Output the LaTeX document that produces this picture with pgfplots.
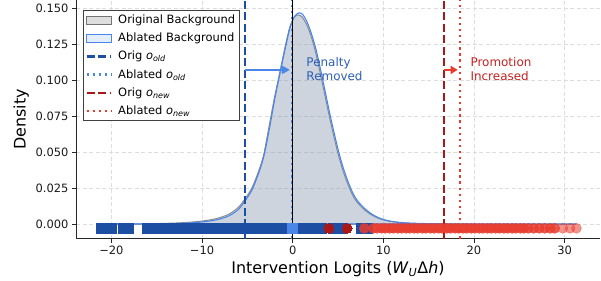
\documentclass[border=0pt]{standalone}
\usepackage{fontspec}
\setmainfont{DejaVu Sans}
\usepackage{pgfplots}
\pgfplotsset{compat=1.18}
\usetikzlibrary{arrows.meta}
\definecolor{dblue}{HTML}{1C4EA4}
\definecolor{lblue}{HTML}{4A86E8}
\definecolor{tblue}{HTML}{2D5FB4}
\definecolor{dred}{HTML}{A81818}
\definecolor{lred}{HTML}{E83C2E}
\definecolor{tred}{HTML}{C42020}
\definecolor{gridc}{HTML}{DDDDDD}
\newcommand{\lf}{\fontsize{11.5}{13}\selectfont}
\pgfplotsset{
  patchlegend/.style={legend image code/.code={\draw[##1] (0bp,-4bp) rectangle (24.5bp,4bp);}},
  linelegend/.style={legend image code/.code={\draw[##1] (0bp,0bp) -- (24.5bp,0bp);}},
}
\begin{document}
\begin{tikzpicture}
\path[use as bounding box] (0bp,0bp) rectangle (601bp,281bp);
\begin{axis}[
  at={(76bp,42.3bp)}, anchor=south west,
  scale only axis, width=524bp, height=238.7bp,
  xmin=-23.9, xmax=33.9, ymin=-0.0102, ymax=0.1555,
  axis x line*=bottom, axis y line*=left,
  axis line style={line width=1bp, black!85},
  tick align=outside, major tick length=4bp,
  tick style={line width=0.8bp, black!85},
  xtick={-20,-10,0,10,20,30},
  xticklabels={−20,−10,0,10,20,30},
  ytick={0,0.025,0.05,0.075,0.1,0.125,0.15},
  yticklabels={0.000,0.025,0.050,0.075,0.100,0.125,0.150},
  tick label style={font=\fontsize{11.5}{14}\selectfont, text=black!90},
  grid=major,
  major grid style={gridc, line width=0.7bp, dash pattern=on 4bp off 2.5bp},
  xlabel={Intervention Logits (\textit{W}\textsubscript{\textit{U}}Δ\textit{h})},
  ylabel={Density},
  label style={font=\fontsize{16}{18}\selectfont},
  legend style={at={(rel axis cs:0.0125,0.958)}, anchor=north west,
    draw=black!75, line width=0.8bp, fill=white,
    font=\lf, nodes={font=\lf}, cells={anchor=west},
    row sep=4bp, column sep=4bp, inner sep=2.5bp},
  legend cell align=left,
]
% original density
\addplot[forget plot, smooth, draw=black!45, line width=1bp, fill=black!38, fill opacity=0.35] table {
-21.6 0.0000
-18 0.0001
-15 0.0003
-12.5 0.0008
-10.5 0.0017
-9 0.0030
-8 0.0045
-7 0.0070
-6 0.0115
-5.26 0.0175
-4.5 0.0250
-3.8 0.0360
-3.2 0.0480
-2.6 0.0680
-2.0 0.0880
-1.4 0.1060
-0.8 0.1240
-0.3 0.1370
0.2 0.1440
0.6 0.1450
1.0 0.1440
1.5 0.1390
2.0 0.1310
2.5 0.1200
3.0 0.1060
3.5 0.0910
4.0 0.0760
4.5 0.0620
5.0 0.0490
5.5 0.0380
6.0 0.0290
6.5 0.0215
7.0 0.0160
7.8 0.0105
8.7 0.0063
9.6 0.0036
10.5 0.0021
12 0.0008
14 0.0003
17 0.0001
20 0.0000
31.3 0.0000
} \closedcycle;
% ablated density
\addplot[forget plot, smooth, draw=lblue, line width=1.1bp, fill=lblue, fill opacity=0.1] table {
-21.6 0.0000
-15 0.0001
-12.5 0.0004
-10.5 0.0011
-9 0.0022
-8 0.0035
-7 0.0058
-6 0.0100
-5.26 0.0160
-4.5 0.0235
-3.8 0.0345
-3.2 0.0465
-2.6 0.0650
-2.0 0.0860
-1.4 0.1045
-0.8 0.1225
-0.3 0.1360
0.2 0.1440
0.7 0.1465
1.1 0.1455
1.6 0.1400
2.1 0.1315
2.6 0.1205
3.1 0.1065
3.6 0.0915
4.1 0.0765
4.6 0.0625
5.1 0.0495
5.6 0.0385
6.1 0.0295
6.6 0.0220
7.1 0.0165
7.9 0.0110
8.8 0.0066
9.7 0.0038
10.6 0.0022
12 0.0010
14 0.0004
17 0.0001
20 0.0000
31.3 0.0000
} \closedcycle;
% rug: blue squares
\addplot[forget plot, only marks, mark=square*, mark size=4.9bp, mark options={draw=dblue, line width=0pt, fill=dblue}] coordinates {
(-21.1,-0.0030) (-20.0,-0.0030) (-18.7,-0.0030) (-18.1,-0.0030)
(-16.0,-0.0030) (-15.4,-0.0030) (-14.8,-0.0030) (-14.2,-0.0030) (-13.6,-0.0030)
(-13.0,-0.0030) (-12.4,-0.0030) (-11.8,-0.0030) (-11.2,-0.0030) (-10.6,-0.0030)
(-10.0,-0.0030) (-9.4,-0.0030) (-8.8,-0.0030) (-8.2,-0.0030) (-7.6,-0.0030)
(-7.0,-0.0030) (-6.4,-0.0030) (-5.8,-0.0030) (-5.2,-0.0030) (-4.6,-0.0030)
(-4.0,-0.0030) (-3.4,-0.0030) (-2.8,-0.0030) (-2.2,-0.0030) (-1.6,-0.0030)
(-1.0,-0.0030) (-0.4,-0.0030) (0.2,-0.0030) (0.8,-0.0030) (1.4,-0.0030)
(2.0,-0.0030) (2.6,-0.0030) (3.2,-0.0030) (4.6,-0.0030) (5.3,-0.0030)
(7.6,-0.0030) (8.3,-0.0030)
};
% light blue square (ablated)
\addplot[forget plot, only marks, mark=square*, mark size=4.9bp, mark options={draw=lblue, line width=0pt, fill=lblue}] coordinates {(0,-0.0030)};
% rug: dark red circles
\addplot[forget plot, only marks, mark=*, mark size=5bp, mark options={draw=dred, line width=0pt, fill=dred}] coordinates {
(4.0,-0.0030) (6.0,-0.0030)
};
% rug: red circles
\addplot[forget plot, only marks, mark=*, mark size=5bp, mark options={draw=lred, draw opacity=0.9, line width=0.4bp, fill=lred, fill opacity=0.85}] coordinates {
(7.9,-0.0030) (8.9,-0.0030) (9.3,-0.0030) (9.8,-0.0030) (10.2,-0.0030) (10.7,-0.0030)
(11.1,-0.0030) (11.6,-0.0030) (12.0,-0.0030) (12.5,-0.0030) (12.9,-0.0030) (13.4,-0.0030)
(13.8,-0.0030) (14.3,-0.0030) (14.7,-0.0030) (15.2,-0.0030) (15.6,-0.0030) (16.1,-0.0030)
(16.5,-0.0030) (17.0,-0.0030) (17.4,-0.0030) (17.9,-0.0030) (18.3,-0.0030) (18.8,-0.0030)
(19.2,-0.0030) (19.7,-0.0030) (20.1,-0.0030) (20.6,-0.0030) (21.0,-0.0030) (21.5,-0.0030)
(21.9,-0.0030) (22.4,-0.0030) (22.8,-0.0030) (23.3,-0.0030) (23.7,-0.0030) (24.2,-0.0030)
(24.6,-0.0030) (25.1,-0.0030) (25.5,-0.0030) (26.0,-0.0030) (26.6,-0.0030) (27.2,-0.0030)
(27.8,-0.0030) (28.4,-0.0030) (28.9,-0.0030)
};
% rug: lighter isolated red circles at the far right
\addplot[forget plot, only marks, mark=*, mark size=5bp, mark options={draw=lred, draw opacity=0.55, line width=0.4bp, fill=lred, fill opacity=0.55}] coordinates {
(29.8,-0.0030) (30.6,-0.0030) (31.3,-0.0030)
};
% vertical reference lines
\addplot[forget plot, dblue, line width=2.3bp, dash pattern=on 8bp off 3.5bp] coordinates {(-5.26,-0.0102) (-5.26,0.1555)};
\addplot[forget plot, lblue, line width=2.3bp, dash pattern=on 2.3bp off 3.8bp] coordinates {(-0.05,-0.0102) (-0.05,0.1555)};
\addplot[forget plot, black, line width=1bp] coordinates {(0,-0.0102) (0,0.1555)};
\addplot[forget plot, dred, line width=2.3bp, dash pattern=on 8bp off 3.5bp] coordinates {(16.7,-0.0102) (16.7,0.1555)};
\addplot[forget plot, lred, line width=2.3bp, dash pattern=on 2.3bp off 3.8bp] coordinates {(18.45,-0.0102) (18.45,0.1555)};
% arrows and annotations
\draw[lblue, line width=2bp, -{Triangle[length=8bp,width=8bp]}] (axis cs:-5.26,0.107) -- (axis cs:-0.3,0.107);
\draw[lred, line width=2bp, -{Triangle[length=7bp,width=8bp]}] (axis cs:16.7,0.107) -- (axis cs:18.2,0.107);
\node[anchor=west, align=left, text=tblue, font=\fontsize{12}{14.3}\selectfont, inner sep=0pt] at (axis cs:1.5,0.1076) {Penalty\\Removed};
\node[anchor=west, align=left, text=tred, font=\fontsize{12}{14.3}\selectfont, inner sep=0pt] at (axis cs:19.6,0.1076) {Promotion\\Increased};
% legend
\addlegendimage{patchlegend, draw=black!55, fill=black!13, line width=0.8bp}
\addlegendentry{\lf Original Background}
\addlegendimage{patchlegend, draw=lblue, fill=lblue!15, line width=0.8bp}
\addlegendentry{\lf Ablated Background}
\addlegendimage{linelegend, dblue, line width=2.3bp, dash pattern=on 8bp off 3.5bp}
\addlegendentry{\lf Orig \textit{o}\textsubscript{\textit{old}}}
\addlegendimage{linelegend, lblue, line width=2.3bp, dash pattern=on 2.3bp off 3.8bp}
\addlegendentry{\lf Ablated \textit{o}\textsubscript{\textit{old}}}
\addlegendimage{linelegend, dred, line width=2.3bp, dash pattern=on 8bp off 3.5bp}
\addlegendentry{\lf Orig \textit{o}\textsubscript{\textit{new}}}
\addlegendimage{linelegend, lred, line width=2.3bp, dash pattern=on 2.3bp off 3.8bp}
\addlegendentry{\lf Ablated \textit{o}\textsubscript{\textit{new}}}
\end{axis}
\end{tikzpicture}
\end{document}
